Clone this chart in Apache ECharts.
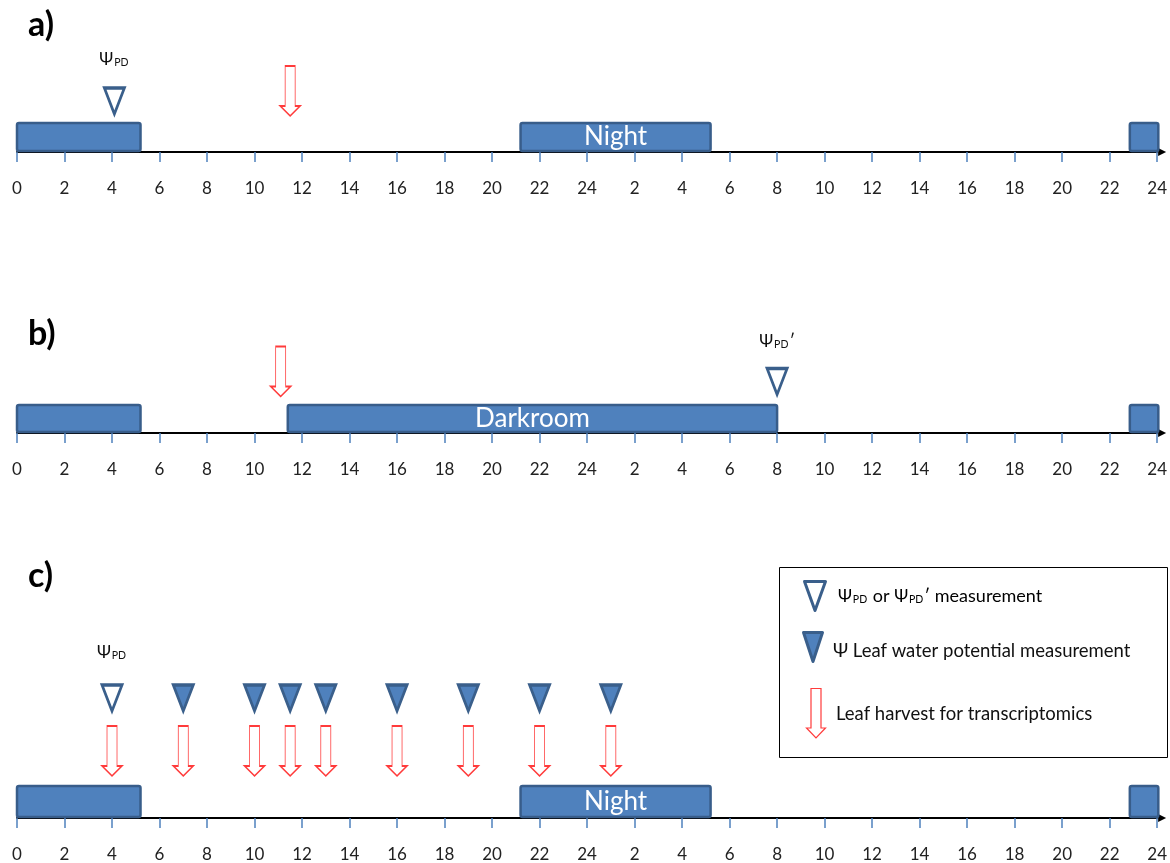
<!DOCTYPE html>
<html>
<head>
<meta charset="utf-8">
<script src="https://cdn.jsdelivr.net/npm/echarts@6/dist/echarts.min.js"></script>
<style>
  html, body { margin: 0; padding: 0; background: #fff; }
  #main { width: 1170px; height: 863px; }
</style>
</head>
<body>
<div id="main"></div>
<script>
// hours run 0..48 (two days), labelled every 2 h
const hourTicks = ['0', '2', '4', '6', '8', '10', '12', '14', '16', '18', '20', '22', '24',
  '2', '4', '6', '8', '10', '12', '14', '16', '18', '20', '22', '24'];

// a) normal night
const darkA = [[0, 5.2, ''], [21.2, 29.2, 'Night'], [46.85, 48.05, '']];
const psiPdA = [4.1];
const harvestA = [11.5];

// b) darkroom
const darkB = [[0, 5.2, ''], [11.4, 32, 'Darkroom'], [46.85, 48.05, '']];
const psiPdB = [32];
const harvestB = [11.1];

// c) time course
const darkC = [[0, 5.2, ''], [21.2, 29.2, 'Night'], [46.85, 48.05, '']];
const psiPdC = [4];
const psiLeafC = [7, 10, 11.5, 13, 16, 19, 22, 25];
const harvestC = [4, 7, 10, 11.5, 13, 16, 19, 22, 25];

const BLUE = '#4F81BD';
const DARKBLUE = '#3A5F8B';
const RED = '#FF3B3B';
const FONT = 'Lato, "Open Sans", sans-serif';
const ARROW = 'path://M5,0 L15,0 L15,40 L20,40 L10,50 L0,40 L5,40 Z';

const psiRich = {
  p: { fontSize: 17, fontFamily: FONT, color: '#111', lineHeight: 18, verticalAlign: 'bottom' },
  s: { fontSize: 10.5, fontFamily: FONT, color: '#111', lineHeight: 8, verticalAlign: 'bottom', padding: [0, 1, 0, 1] },
  t: { fontSize: 18, fontFamily: FONT, color: '#111', lineHeight: 18, verticalAlign: 'bottom' }
};

const panels = [
  { top: 52, height: 100, dark: darkA, open: psiPdA, label: '{p|Ψ}{s|PD}', filled: [], harvest: harvestA,
    barH: 29, triY: 51, arrowY: 61, gap: 18 },
  { top: 333, height: 100, dark: darkB, open: psiPdB, label: '{p|Ψ}{s|PD}{p|′}', filled: [], harvest: harvestB,
    barH: 28, triY: 51.5, arrowY: 61.5, gap: 17 },
  { top: 618, height: 200, dark: darkC, open: psiPdC, label: '{p|Ψ}{s|PD}', filled: psiLeafC, harvest: harvestC,
    barH: 32, triY: 120, arrowY: 67, gap: 22 }
];

const grid = [], xAxis = [], yAxis = [], series = [];

panels.forEach((p, i) => {
  grid.push({ left: 17, right: 11, top: p.top, height: p.height });
  xAxis.push({
    gridIndex: i, type: 'value', min: 0, max: 48, interval: 2,
    splitLine: { show: false },
    axisLine: { lineStyle: { color: '#000', width: 2 }, symbol: ['none', 'triangle'], symbolSize: [8, 8], symbolOffset: [0, 5] },
    axisTick: { length: 10, lineStyle: { color: BLUE, width: 1.5 } },
    axisLabel: { margin: 28, fontSize: 17, fontFamily: FONT, color: '#222',
      formatter: v => hourTicks[Math.round(v / 2)] }
  });
  yAxis.push({ gridIndex: i, type: 'value', min: 0, max: p.height, show: false });

  series.push({
    type: 'custom', xAxisIndex: i, yAxisIndex: i, z: 3,
    data: p.dark.map(d => [d[0], d[1]]),
    renderItem: (params, api) => {
      const a = api.coord([api.value(0), 1]);
      const b = api.coord([api.value(1), p.barH]);
      const txt = p.dark[params.dataIndex][2];
      return {
        type: 'rect',
        shape: { x: a[0], y: b[1], width: b[0] - a[0], height: a[1] - b[1], r: 2 },
        style: { fill: BLUE, stroke: '#385D8A', lineWidth: 2.5 },
        textContent: txt ? { style: { text: txt, fill: '#fff', font: '26px ' + FONT } } : undefined,
        textConfig: txt ? { position: 'inside' } : undefined
      };
    }
  });

  series.push({
    type: 'scatter', xAxisIndex: i, yAxisIndex: i, z: 4,
    symbol: 'triangle', symbolRotate: 180, symbolSize: [20, 26],
    itemStyle: { color: '#fff', borderColor: DARKBLUE, borderWidth: 3, opacity: 1 },
    label: { show: true, position: 'top', distance: p.gap, formatter: p.label, rich: psiRich },
    data: p.open.map(h => [h, p.triY])
  });

  if (p.filled.length) {
    series.push({
      type: 'scatter', xAxisIndex: i, yAxisIndex: i, z: 4,
      symbol: 'triangle', symbolRotate: 180, symbolSize: [20, 26],
      itemStyle: { color: BLUE, borderColor: DARKBLUE, borderWidth: 3, opacity: 1 },
      data: p.filled.map(h => [h, p.triY])
    });
  }

  series.push({
    type: 'scatter', xAxisIndex: i, yAxisIndex: i, z: 4,
    symbol: ARROW, symbolSize: [20, 50],
    itemStyle: { color: '#fff', borderColor: RED, borderWidth: 1.2, opacity: 1 },
    data: p.harvest.map(h => [h, p.arrowY])
  });
});

const letterStyle = { font: 'bold 34px ' + FONT, fill: '#000' };

const chart = echarts.init(document.getElementById('main'));
chart.setOption({
  animation: false,
  grid, xAxis, yAxis, series,
  graphic: [
    { type: 'text', left: 28, top: 8, style: Object.assign({ text: 'a)' }, letterStyle) },
    { type: 'text', left: 28, top: 317, style: Object.assign({ text: 'b)' }, letterStyle) },
    { type: 'text', left: 28, top: 559, style: Object.assign({ text: 'c)' }, letterStyle) },
    { type: 'rect', shape: { x: 779.5, y: 567.5, width: 388, height: 190 },
      style: { fill: '#fff', stroke: '#000', lineWidth: 1 } },
    { type: 'polygon', shape: { points: [[804.5, 581.5], [825.5, 581.5], [815, 610.5]] },
      style: { fill: '#fff', stroke: DARKBLUE, lineWidth: 3, lineJoin: 'round' } },
    { type: 'polygon', shape: { points: [[803.5, 632.5], [822.5, 632.5], [813, 661.5]] },
      style: { fill: BLUE, stroke: DARKBLUE, lineWidth: 3, lineJoin: 'round' } },
    { type: 'polygon', shape: { points: [[811, 688.5], [821, 688.5], [821, 728], [825.5, 728], [816, 738], [806.5, 728], [811, 728]] },
      style: { fill: '#fff', stroke: RED, lineWidth: 1.2 } },
    { type: 'text', x: 838, y: 596,
      style: { text: '{p|Ψ}{s|PD}{t| or }{p|Ψ}{s|PD}{t|′ measurement}', rich: psiRich, verticalAlign: 'middle' } },
    { type: 'text', x: 833, y: 651,
      style: { text: 'Ψ Leaf water potential measurement', font: '18.5px ' + FONT, fill: '#111', verticalAlign: 'middle' } },
    { type: 'text', x: 836, y: 714,
      style: { text: 'Leaf harvest for transcriptomics', font: '18.5px ' + FONT, fill: '#111', verticalAlign: 'middle' } }
  ]
});
</script>
</body>
</html>
